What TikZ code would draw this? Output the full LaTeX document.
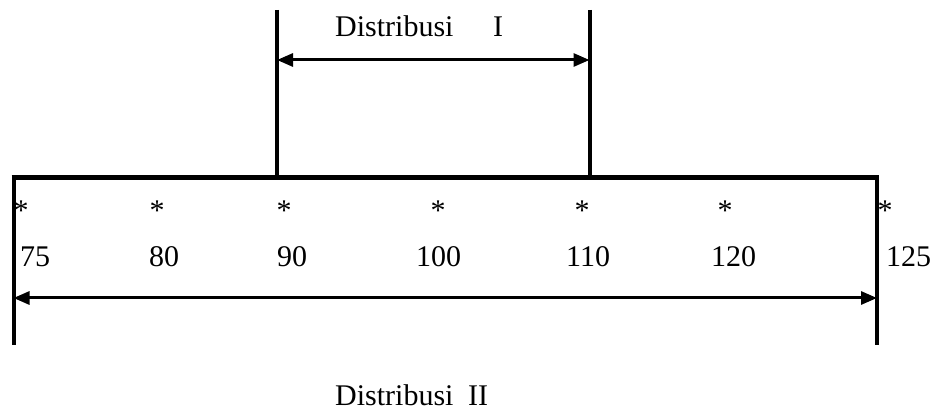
\documentclass[tikz,border=0pt]{standalone}
\usepackage{fontspec}
\setmainfont{Liberation Serif}
\usetikzlibrary{arrows.meta}
\begin{document}
\begin{tikzpicture}[x=1pt,y=-1pt,
  lbl/.style={inner sep=0pt,anchor=base west,font=\fontsize{30}{36}\selectfont},
  star/.style={inner sep=0pt,anchor=base,font=\fontsize{30}{36}\selectfont},
  frame/.style={line width=4pt},
  base/.style={line width=5pt},
  dim/.style={line width=3pt,{Triangle[length=16pt,width=13pt]}-{Triangle[length=16pt,width=13pt]}}]
\useasboundingbox (0,0) rectangle (934,411);
% frame coordinates
\coordinate (bl) at (13.5,345);
\coordinate (tl) at (13.5,178);
\coordinate (tr) at (877,178);
\coordinate (br) at (877,345);
\coordinate (ul) at (277,10);
\coordinate (ull) at (277,178);
\coordinate (ur) at (589.5,10);
\coordinate (url) at (589.5,178);
\coordinate (a1) at (277,60);
\coordinate (a2) at (589.5,60);
\coordinate (b1) at (13.5,298);
\coordinate (b2) at (877,298);
% lines
\draw[base] (11.5,178) -- (879,178);
\draw[frame] (tl) -- (bl);
\draw[frame] (tr) -- (br);
\draw[frame] (ul) -- (ull);
\draw[frame] (ur) -- (url);
\draw[dim] (a1) -- (a2);
\draw[dim] (b1) -- (b2);
% texts
\node[lbl] (d1) at (335,37) {Distribusi};
\node[lbl] (d1b) at (493,37) {I};
\node[lbl] (d2) at (335,405) {Distribusi};
\node[lbl] (d2b) at (468,405) {II};
\node[star] (s1) at (21,221) {*};
\node[star] (s2) at (157,221) {*};
\node[star] (s3) at (284,221) {*};
\node[star] (s4) at (438,221) {*};
\node[star] (s5) at (582,221) {*};
\node[star] (s6) at (725,221) {*};
\node[star] (s7) at (885,221) {*};
\node[lbl] (n1) at (20,267) {75};
\node[lbl] (n2) at (149,267) {80};
\node[lbl] (n3) at (277,267) {90};
\node[lbl] (n4) at (416,267) {100};
\node[lbl] (n5) at (566,267) {110};
\node[lbl] (n6) at (711,267) {120};
\node[lbl] (n7) at (886,267) {125};
\end{tikzpicture}
\end{document}
